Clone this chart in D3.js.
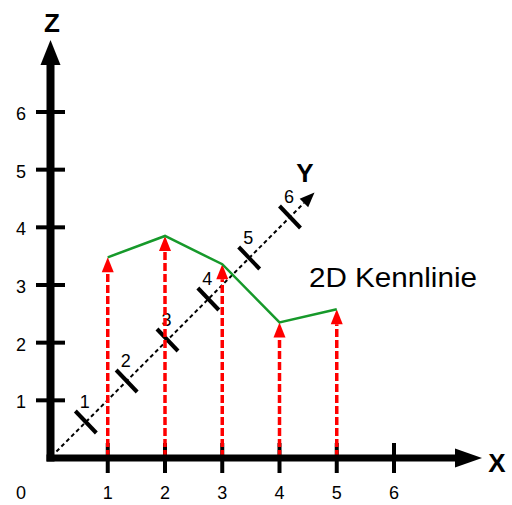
<!DOCTYPE html>
<html>
<head>
    <title>2D Kennlinie</title>
    <style>
        body { margin: 0; background: #fff; }
        text { font-family: "Liberation Sans", Arial, sans-serif; }
    </style>
    <script src="https://d3js.org/d3.v7.min.js"></script>
</head>
<body>
<script>
    // chart data
    const xCategories = [1, 2, 3, 4, 5];
    const zValues = [3.48, 3.85, 3.36, 2.35, 2.58];
    const xTickLabels = [1, 2, 3, 4, 5, 6];
    const zTickLabels = [1, 2, 3, 4, 5, 6];
    const yTickLabels = [1, 2, 3, 4, 5, 6];

    const width = 512, height = 505;

    const svg = d3.select("body").append("svg")
        .attr("width", width)
        .attr("height", height);

    // scales
    const x = d3.scaleLinear().domain([0, 6]).range([50.5, 394]);
    const z = d3.scaleLinear().domain([0, 6]).range([458, 112]);
    // oblique Y axis (screen x and screen y of a point on it)
    const yx = d3.scaleLinear().domain([0, 6]).range([45, 290]);
    const yy = d3.scaleLinear().domain([0, 6]).range([463, 217]);

    // Y axis (dashed, diagonal)
    const yStart = 0.28, yEnd = 6.6;
    const ux = yx(1) - yx(0), uy = yy(1) - yy(0);
    const ulen = Math.hypot(ux, uy);
    const dx = ux / ulen, dy = uy / ulen;
    const headLen = 15, headHalf = 6;
    svg.append("line")
        .attr("x1", yx(yStart)).attr("y1", yy(yStart))
        .attr("x2", yx(yEnd) - dx * headLen).attr("y2", yy(yEnd) - dy * headLen)
        .attr("stroke", "#000").attr("stroke-width", 2)
        .attr("stroke-dasharray", "4,3");
    {
        const tx = yx(yEnd), ty = yy(yEnd);
        const bx = tx - dx * headLen, by = ty - dy * headLen;
        svg.append("path")
            .attr("d", `M${tx},${ty}L${bx - dy * headHalf},${by + dx * headHalf}L${bx + dy * headHalf},${by - dx * headHalf}Z`)
            .attr("fill", "#000");
    }
    svg.selectAll(".ytick")
        .data(yTickLabels)
        .join("line")
        .attr("class", "ytick")
        .attr("x1", d => yx(d) - 10.5).attr("y1", d => yy(d) - 11)
        .attr("x2", d => yx(d) + 10.5).attr("y2", d => yy(d) + 11)
        .attr("stroke", "#000").attr("stroke-width", 4);
    svg.selectAll(".ylabel")
        .data(yTickLabels)
        .join("text")
        .attr("class", "ylabel")
        .attr("x", d => yx(d) - 1)
        .attr("y", d => yy(d) - 14)
        .attr("text-anchor", "middle")
        .attr("font-size", 18)
        .text(d => d);

    // X ticks and Z ticks
    svg.selectAll(".xtick")
        .data(xTickLabels)
        .join("line")
        .attr("class", "xtick")
        .attr("x1", d => x(d)).attr("x2", d => x(d))
        .attr("y1", z(0) - 15).attr("y2", z(0) + 15)
        .attr("stroke", "#000").attr("stroke-width", 4);
    svg.selectAll(".ztick")
        .data(zTickLabels)
        .join("line")
        .attr("class", "ztick")
        .attr("x1", x(0) - 14.5).attr("x2", x(0) + 14.5)
        .attr("y1", d => z(d)).attr("y2", d => z(d))
        .attr("stroke", "#000").attr("stroke-width", 4);

    // red dashed arrows from X axis up to each value
    const rHead = 15, rHalf = 6;
    svg.selectAll(".stem")
        .data(xCategories)
        .join("line")
        .attr("class", "stem")
        .attr("x1", d => x(d)).attr("x2", d => x(d))
        .attr("y1", z(0))
        .attr("y2", (d, i) => z(zValues[i]) + rHead)
        .attr("stroke", "#ff0000").attr("stroke-width", 3.5)
        .attr("stroke-dasharray", "8,3");
    svg.selectAll(".head")
        .data(xCategories)
        .join("path")
        .attr("class", "head")
        .attr("d", (d, i) => {
            const px = x(d), py = z(zValues[i]);
            return `M${px},${py}L${px - rHalf},${py + rHead}L${px + rHalf},${py + rHead}Z`;
        })
        .attr("fill", "#ff0000");

    // green characteristic line
    const line = d3.line()
        .x((d, i) => x(xCategories[i]))
        .y(d => z(d));
    svg.append("path")
        .datum(zValues)
        .attr("d", line)
        .attr("fill", "none")
        .attr("stroke", "#16992a")
        .attr("stroke-width", 2.5);

    // main axes
    svg.append("line")
        .attr("x1", x(0)).attr("y1", z(0) + 3.5)
        .attr("x2", x(0)).attr("y2", 64)
        .attr("stroke", "#000").attr("stroke-width", 8);
    svg.append("path")
        .attr("d", `M${x(0)},40L${x(0) - 10},65L${x(0) + 10},65Z`)
        .attr("fill", "#000");
    svg.append("line")
        .attr("x1", x(0) - 4).attr("y1", z(0))
        .attr("x2", 456).attr("y2", z(0))
        .attr("stroke", "#000").attr("stroke-width", 7);
    svg.append("path")
        .attr("d", `M482,${z(0)}L455,${z(0) - 9.5}L455,${z(0) + 9.5}Z`)
        .attr("fill", "#000");

    // tick labels
    svg.selectAll(".xlabel")
        .data([0].concat(xTickLabels))
        .join("text")
        .attr("class", "xlabel")
        .attr("x", d => d === 0 ? 21 : x(d))
        .attr("y", 498.5)
        .attr("text-anchor", "middle")
        .attr("font-size", 18)
        .text(d => d);
    svg.selectAll(".zlabel")
        .data(zTickLabels)
        .join("text")
        .attr("class", "zlabel")
        .attr("x", 21)
        .attr("y", d => z(d) + 8)
        .attr("text-anchor", "middle")
        .attr("font-size", 18)
        .text(d => d);

    // axis titles
    svg.append("text").attr("x", 52).attr("y", 32)
        .attr("text-anchor", "middle").attr("font-size", 26).attr("font-weight", "bold")
        .text("Z");
    svg.append("text").attr("x", 497).attr("y", 471.5)
        .attr("text-anchor", "middle").attr("font-size", 26).attr("font-weight", "bold")
        .text("X");
    svg.append("text").attr("x", 305).attr("y", 182)
        .attr("text-anchor", "middle").attr("font-size", 26).attr("font-weight", "bold")
        .text("Y");

    svg.append("text")
        .attr("x", 309).attr("y", 287)
        .attr("font-size", 27)
        .attr("textLength", 168)
        .attr("lengthAdjust", "spacingAndGlyphs")
        .text("2D Kennlinie");
</script>
</body>
</html>
